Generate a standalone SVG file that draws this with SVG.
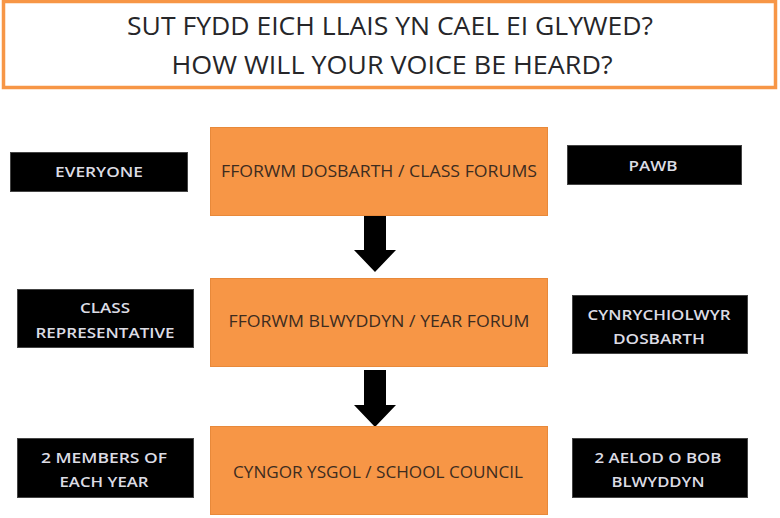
<svg xmlns="http://www.w3.org/2000/svg" width="780" height="518" viewBox="0 0 780 518">
<style>
.title{font-family:"Open Sans","Liberation Sans",sans-serif;font-size:25px;font-weight:500;fill:#262629;text-anchor:middle}
.obox{fill:#F79646;stroke:#E8893A;stroke-width:1}
.otext{font-family:"Open Sans","Liberation Sans",sans-serif;font-size:16px;font-weight:500;fill:#3d2c20;text-anchor:middle}
.bbox{fill:#000;stroke:#444;stroke-width:1}
.btext{font-family:"Open Sans","Liberation Sans",sans-serif;font-size:15px;font-weight:600;fill:#dcdce4;text-anchor:middle}
.arrow{fill:#000}
</style>
<rect x="0" y="0" width="780" height="518" fill="#fff"/>
<g id="title">
<rect x="3.5" y="1.5" width="772" height="86" fill="#fff" stroke="#F79646" stroke-width="3.5"/>
<text class="title" x="390" y="35" textLength="526" lengthAdjust="spacingAndGlyphs">SUT FYDD EICH LLAIS YN CAEL EI GLYWED?</text>
<text class="title" x="392" y="74" textLength="441" lengthAdjust="spacingAndGlyphs">HOW WILL YOUR VOICE BE HEARD?</text>
</g>
<g id="connectors">
<polygon class="arrow" points="364,216 386,216 386,250 396,250 375,272 354,250 364,250"/>
<polygon class="arrow" points="364,370 386,370 386,405 396,405 375,427 354,405 364,405"/>
</g>
<g id="class-forums">
<rect class="obox" x="210.5" y="127.5" width="337" height="88"/>
<text class="otext" x="379" y="177" textLength="316" lengthAdjust="spacingAndGlyphs">FFORWM DOSBARTH / CLASS FORUMS</text>
</g>
<g id="year-forum">
<rect class="obox" x="210.5" y="278.5" width="337" height="88"/>
<text class="otext" x="379" y="327" textLength="301" lengthAdjust="spacingAndGlyphs">FFORWM BLWYDDYN / YEAR FORUM</text>
</g>
<g id="school-council">
<rect class="obox" x="210.5" y="426.5" width="337" height="88"/>
<text class="otext" x="378" y="478" textLength="290" lengthAdjust="spacingAndGlyphs">CYNGOR YSGOL / SCHOOL COUNCIL</text>
</g>
<g id="everyone">
<rect class="bbox" x="10.5" y="152.5" width="177" height="39"/>
<text class="btext" x="99" y="177" textLength="88" lengthAdjust="spacingAndGlyphs">EVERYONE</text>
</g>
<g id="pawb">
<rect class="bbox" x="567.5" y="145.5" width="174" height="39"/>
<text class="btext" x="653" y="171" textLength="49" lengthAdjust="spacingAndGlyphs">PAWB</text>
</g>
<g id="class-representative">
<rect class="bbox" x="17.5" y="289.5" width="176" height="58"/>
<text class="btext" x="105" y="313" textLength="50" lengthAdjust="spacingAndGlyphs">CLASS</text>
<text class="btext" x="105" y="338" textLength="139" lengthAdjust="spacingAndGlyphs">REPRESENTATIVE</text>
</g>
<g id="cynrychiolwyr-dosbarth">
<rect class="bbox" x="572.5" y="295.5" width="175" height="58"/>
<text class="btext" x="659" y="320" textLength="143" lengthAdjust="spacingAndGlyphs">CYNRYCHIOLWYR</text>
<text class="btext" x="659" y="344" textLength="92" lengthAdjust="spacingAndGlyphs">DOSBARTH</text>
</g>
<g id="two-members">
<rect class="bbox" x="17.5" y="438.5" width="176" height="59"/>
<text class="btext" x="104" y="463" textLength="126" lengthAdjust="spacingAndGlyphs">2 MEMBERS OF</text>
<text class="btext" x="104" y="487" textLength="89" lengthAdjust="spacingAndGlyphs">EACH YEAR</text>
</g>
<g id="two-aelod">
<rect class="bbox" x="572.5" y="438.5" width="175" height="59"/>
<text class="btext" x="658" y="463" textLength="127" lengthAdjust="spacingAndGlyphs">2 AELOD O BOB</text>
<text class="btext" x="658" y="487" textLength="93" lengthAdjust="spacingAndGlyphs">BLWYDDYN</text>
</g>
</svg>
